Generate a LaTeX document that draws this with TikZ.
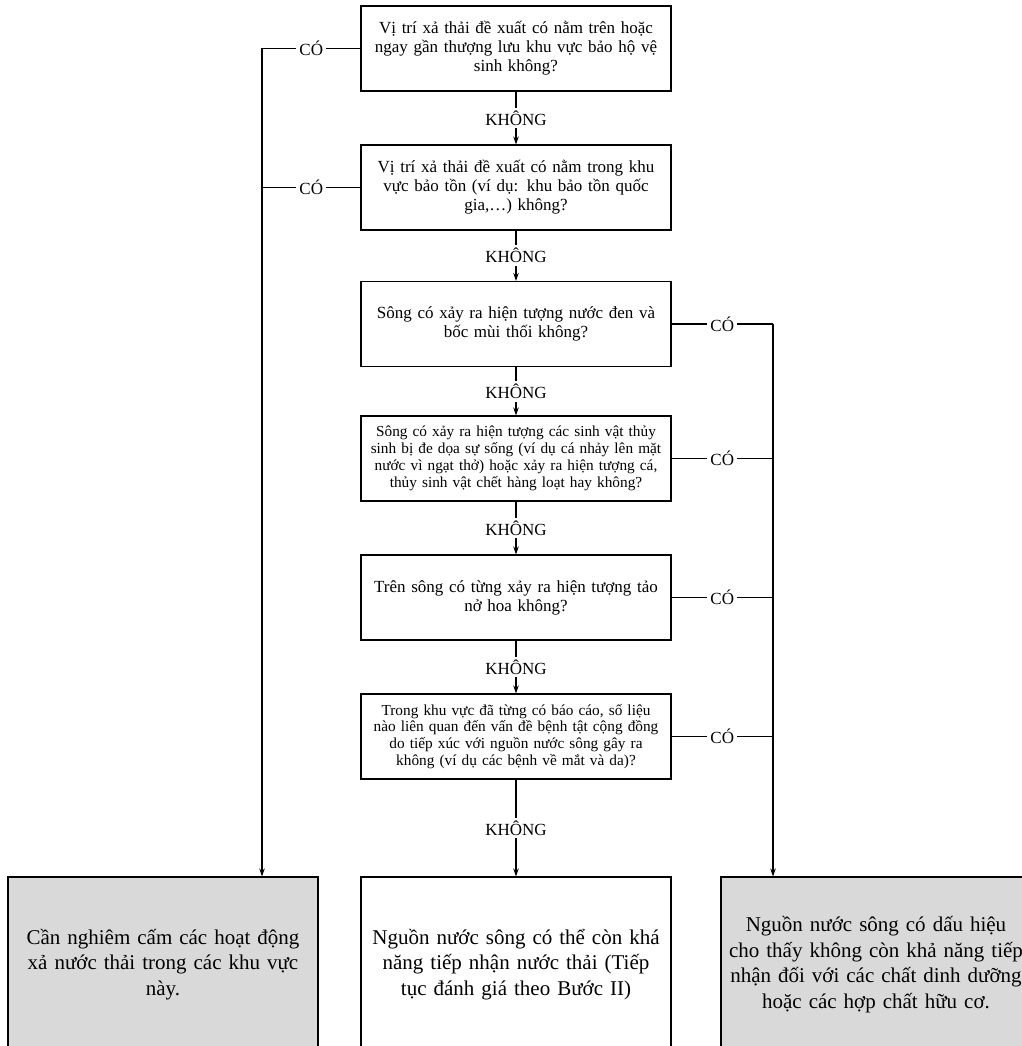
\documentclass[tikz,border=0pt]{standalone}
\usepackage{fontspec}
\setmainfont{Liberation Serif}
\usetikzlibrary{arrows.meta, positioning}

\begin{document}
\begin{tikzpicture}[x=1pt, y=-1pt, line width=1.1pt,
  question/.style={draw, minimum width=310pt, minimum height=85pt, text width=308pt, inner sep=0pt, align=center, font=\fontsize{17}{19}\selectfont},
  dense/.style={font=\fontsize{15.3}{16.8}\selectfont},
  outcome/.style={draw, minimum width=310pt, minimum height=175pt, text width=310pt, inner sep=0pt, align=center, font=\fontsize{21}{25.5}\selectfont},
  shaded/.style={fill=black!15},
  answer/.style={fill=white, inner sep=3pt, font=\fontsize{17}{19}\selectfont},
  arr/.style={-{Stealth[length=8pt,width=5.5pt]}}]
\useasboundingbox (0,0) rectangle (1021,1046);

% Questions
\node[question] (q1) at (516,48.5) {Vị trí xả thải đề xuất có nằm trên hoặc\\ngay gần thượng lưu khu vực bảo hộ vệ\\sinh không?};
\node[question] (q2) at (516,187.5) {Vị trí xả thải đề xuất có nằm trong khu\\vực bảo tồn (ví dụ: khu bảo tồn quốc\\gia,…) không?};
\node[question] (q3) at (516,324) {Sông có xảy ra hiện tượng nước đen và\\bốc mùi thối không?};
\node[question, dense] (q4) at (516,458.5) {Sông có xảy ra hiện tượng các sinh vật thủy\\sinh bị đe dọa sự sống (ví dụ cá nhảy lên mặt\\nước vì ngạt thở) hoặc xảy ra hiện tượng cá,\\thủy sinh vật chết hàng loạt hay không?};
\node[question] (q5) at (516,597.5) {Trên sông có từng xảy ra hiện tượng tảo\\nở hoa không?};
\node[question, dense] (q6) at (516,736.5) {Trong khu vực đã từng có báo cáo, số liệu\\nào liên quan đến vấn đề bệnh tật cộng đồng\\do tiếp xúc với nguồn nước sông gây ra\\không (ví dụ các bệnh về mắt và da)?};

% Outcomes
\node[outcome, shaded] (ban) at (163,964.5) {Cần nghiêm cấm các hoạt động\\xả nước thải trong các khu vực\\này.};
\node[outcome] (keep) at (516,964.5) {Nguồn nước sông có thể còn khá\\năng tiếp nhận nước thải (Tiếp\\tục đánh giá theo Bước II)};
\node[outcome, shaded] (fail) at (876,964.5) {Nguồn nước sông có dấu hiệu\\cho thấy không còn khả năng tiếp\\nhận đối với các chất dinh dưỡng\\hoặc các hợp chất hữu cơ.};

% KHÔNG branch
\foreach \a/\b in {q1/q2, q2/q3, q3/q4, q4/q5, q5/q6, q6/keep}
  \draw[arr] (\a.south) -- node[answer] {KHÔNG} (\a.south |- \b.north);

% CÓ branch, left
\coordinate (lcol) at (262,0);
\draw (q1.west) -- node[answer] {CÓ} (q1.west -| lcol);
\draw (q2.west) -- node[answer] {CÓ} (q2.west -| lcol);
\draw[arr] (q1.west -| lcol) -- (ban.north -| lcol);

% CÓ branch, right
\coordinate (rcol) at (773,0);
\foreach \q in {q3, q4, q5, q6}
  \draw (\q.east) -- node[answer] {CÓ} (\q.east -| rcol);
\draw[arr] (q3.east -| rcol) -- (fail.north -| rcol);
\end{tikzpicture}
\end{document}
